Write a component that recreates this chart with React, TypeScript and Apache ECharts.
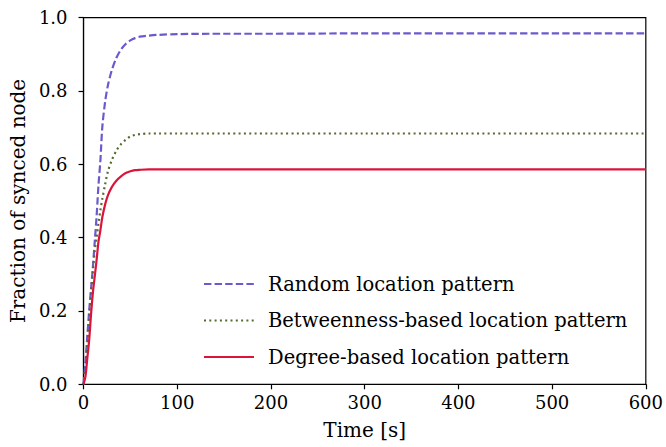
import React, { useEffect, useRef } from "react";
import * as echarts from "echarts";

const times = [0, 2, 4, 6, 8, 10, 12, 14, 16, 18, 20, 23, 26, 30, 35, 40, 45, 50, 55, 60, 70, 80, 100, 150, 200, 300, 400, 500, 600];
const randomVals = [0, 0.06, 0.13, 0.2, 0.26, 0.32, 0.39, 0.46, 0.545, 0.61, 0.7, 0.77, 0.815, 0.855, 0.89, 0.913, 0.928, 0.938, 0.944, 0.948, 0.951, 0.953, 0.955, 0.956, 0.956, 0.957, 0.957, 0.957, 0.957];
const betweennessVals = [0, 0.04, 0.11, 0.18, 0.25, 0.31, 0.365, 0.4, 0.44, 0.475, 0.505, 0.545, 0.58, 0.61, 0.637, 0.655, 0.667, 0.676, 0.68, 0.682, 0.684, 0.684, 0.684, 0.684, 0.684, 0.684, 0.684, 0.684, 0.684];
const degreeVals = [0, 0.02, 0.07, 0.12, 0.19, 0.25, 0.295, 0.34, 0.39, 0.42, 0.455, 0.49, 0.515, 0.537, 0.555, 0.567, 0.576, 0.581, 0.584, 0.585, 0.586, 0.586, 0.586, 0.586, 0.586, 0.586, 0.586, 0.586, 0.586];
const seriesNames = ["Random location pattern", "Betweenness-based location pattern", "Degree-based location pattern"];
const xTicks = [0, 100, 200, 300, 400, 500, 600];
const yTicks = [0, 0.2, 0.4, 0.6, 0.8, 1.0];

const FONT = "DejaVu Serif";

export default function App() {
  const ref = useRef<HTMLDivElement>(null);
  useEffect(() => {
    if (!ref.current) return;
    const chart = echarts.init(ref.current, null, { renderer: "svg" });
    const pair = (vals: number[]) => times.map((t, i) => [t, vals[i]]);
    chart.setOption({
      animation: false,
      backgroundColor: "#ffffff",
      textStyle: { fontFamily: FONT },
      grid: { left: 83, right: 19, top: 17.6, bottom: 62.7, show: true, borderColor: "#000", borderWidth: 1.2, backgroundColor: "transparent" },
      legend: {
        orient: "vertical",
        left: 198,
        top: 267,
        itemWidth: 50,
        itemHeight: 14,
        itemGap: 12.5,
        itemStyle: { opacity: 0 },
        textStyle: { fontFamily: FONT, fontSize: 19.5, color: "#000", lineHeight: 24, padding: [0, 0, 0, 9] },
        data: seriesNames,
      },
      xAxis: {
        type: "value",
        min: xTicks[0],
        max: xTicks[xTicks.length - 1],
        interval: 100,
        name: "Time [s]",
        nameLocation: "middle",
        nameGap: 36,
        nameTextStyle: { fontFamily: FONT, fontSize: 20, color: "#000" },
        axisLine: { lineStyle: { color: "#000", width: 1.2 } },
        axisTick: { show: true, inside: false, length: 5, lineStyle: { color: "#000", width: 1.2 } },
        axisLabel: { fontFamily: FONT, fontSize: 18, color: "#000", margin: 9 },
        splitLine: { show: false },
      },
      yAxis: {
        type: "value",
        min: yTicks[0],
        max: yTicks[yTicks.length - 1],
        interval: 0.2,
        name: "Fraction of synced node",
        nameLocation: "middle",
        nameGap: 48,
        nameTextStyle: { fontFamily: FONT, fontSize: 20, color: "#000" },
        axisLine: { show: true, lineStyle: { color: "#000", width: 1.2 } },
        axisTick: { show: true, inside: false, length: 5, lineStyle: { color: "#000", width: 1.2 } },
        axisLabel: { fontFamily: FONT, fontSize: 18, color: "#000", margin: 16, formatter: (v: number) => v.toFixed(1) },
        splitLine: { show: false },
      },
      series: [
        {
          name: seriesNames[0],
          type: "line",
          smooth: 0.3,
          symbol: "none",
          data: pair(randomVals),
          color: "#6a5acd",
          lineStyle: { color: "#6a5acd", width: 2.2, type: [7.4, 3.2] },
        },
        {
          name: seriesNames[1],
          type: "line",
          smooth: 0.3,
          symbol: "none",
          data: pair(betweennessVals),
          color: "#556b2f",
          lineStyle: { color: "#556b2f", width: 2.2, type: [2, 3.3] },
        },
        {
          name: seriesNames[2],
          type: "line",
          smooth: 0.3,
          symbol: "none",
          data: pair(degreeVals),
          color: "#dc143c",
          lineStyle: { color: "#dc143c", width: 2.2 },
        },
      ],
    });
    return () => chart.dispose();
  }, []);
  return <div ref={ref} style={{ position: "fixed", left: 0, top: 0, width: 666, height: 447 }} />;
}
